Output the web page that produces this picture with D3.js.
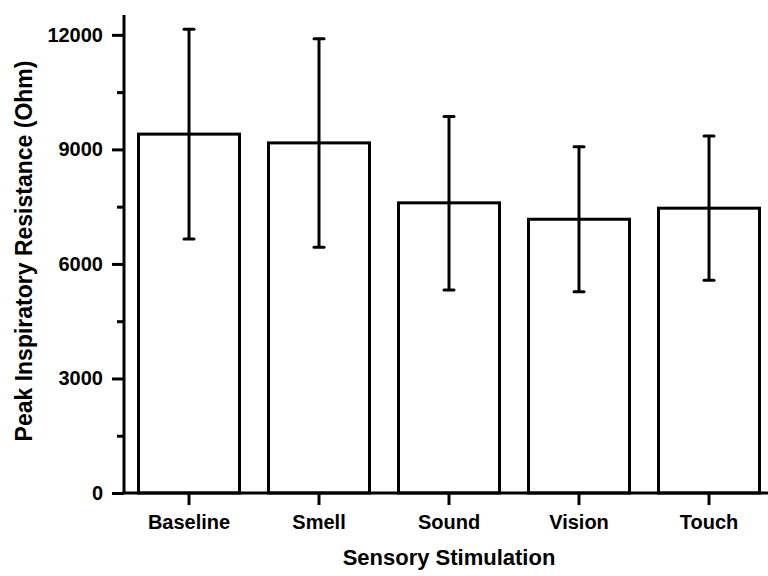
<!DOCTYPE html>
<html>
<head>
<meta charset="utf-8">
<script src="https://cdn.jsdelivr.net/npm/d3@7"></script>
<style>
  body { margin: 0; background: #fff; }
  text { font-family: "Liberation Sans", Arial, sans-serif; font-weight: bold; fill: #000; }
</style>
</head>
<body>
<script>
// data
var categories = ["Baseline", "Smell", "Sound", "Vision", "Touch"];
var means = [9400, 9170, 7600, 7170, 7460];
var errUp = [12150, 11900, 9860, 9070, 9350];
var errLow = [6650, 6440, 5320, 5270, 5570];
var yTicks = [0, 3000, 6000, 9000, 12000];
var yMinorTicks = [1500, 4500, 7500, 10500];

var svg = d3.select("body")
   .append("svg")
   .attr("width", 768)
   .attr("height", 576);

var xScale = d3.scaleBand()
   .domain(categories)
   .range([124, 774])
   .paddingInner(0.2)
   .paddingOuter(0.1);

var yScale = d3.scaleLinear()
   .domain([0, 12520])
   .range([493, 15]);

var data = categories.map(function(c, i){
    return {cat: c, mean: means[i], hi: errUp[i], lo: errLow[i]};
});

// bars
svg.selectAll("rect.bar")
   .data(data)
   .enter()
   .append("rect")
   .attr("class", "bar")
   .attr("x", function(d){ return xScale(d.cat) + 1.5; })
   .attr("y", function(d){ return yScale(d.mean); })
   .attr("width", xScale.bandwidth() - 3)
   .attr("height", function(d){ return yScale(0) - yScale(d.mean); })
   .attr("fill", "#fff")
   .attr("stroke", "#000")
   .attr("stroke-width", 3);

// error bars
var eb = svg.selectAll("g.err")
   .data(data)
   .enter()
   .append("g")
   .attr("class", "err")
   .attr("transform", function(d){
       return "translate(" + (xScale(d.cat) + xScale.bandwidth() / 2) + ",0)";
   });
eb.append("line")
   .attr("y1", function(d){ return yScale(d.hi); })
   .attr("y2", function(d){ return yScale(d.lo); })
   .attr("stroke", "#000").attr("stroke-width", 3);
eb.append("line")
   .attr("x1", -5).attr("x2", 5)
   .attr("y1", function(d){ return yScale(d.hi); })
   .attr("y2", function(d){ return yScale(d.hi); })
   .attr("stroke", "#000").attr("stroke-width", 3).attr("stroke-linecap", "round");
eb.append("line")
   .attr("x1", -5).attr("x2", 5)
   .attr("y1", function(d){ return yScale(d.lo); })
   .attr("y2", function(d){ return yScale(d.lo); })
   .attr("stroke", "#000").attr("stroke-width", 3).attr("stroke-linecap", "round");

// axes
var xAxis = d3.axisBottom(xScale).tickSize(12).tickSizeOuter(0).tickPadding(10);
var yAxis = d3.axisLeft(yScale).tickValues(yTicks).tickFormat(d3.format("d"))
   .tickSize(12).tickSizeOuter(0).tickPadding(9);
var yMinor = d3.axisLeft(yScale).tickValues(yMinorTicks).tickSize(7).tickSizeOuter(0).tickFormat("");

var gx = svg.append("g").attr("transform", "translate(0,493)").call(xAxis);
var gy = svg.append("g").attr("transform", "translate(124,0)").call(yAxis);
var gm = svg.append("g").attr("transform", "translate(124,0)").call(yMinor);

[gx, gy, gm].forEach(function(g){
    g.select(".domain").attr("stroke", "#000").attr("stroke-width", 3);
    g.selectAll(".tick line").attr("stroke", "#000").attr("stroke-width", 3);
    g.selectAll(".tick text").attr("font-size", 20).attr("font-family", "Liberation Sans, Arial, sans-serif").attr("font-weight", "bold");
});
gm.select(".domain").remove();
gx.select(".domain").attr("d", "M122.5,0H768");
gy.select(".domain").attr("d", "M0,493V15");

// axis labels
svg.append("text")
   .text("Sensory Stimulation")
   .attr("x", 449).attr("y", 565)
   .attr("text-anchor", "middle")
   .attr("font-size", 22);
svg.append("text")
   .text("Peak Inspiratory Resistance (Ohm)")
   .attr("transform", "translate(32,251) rotate(-90)")
   .attr("text-anchor", "middle")
   .attr("font-size", 23);
</script>
</body>
</html>
